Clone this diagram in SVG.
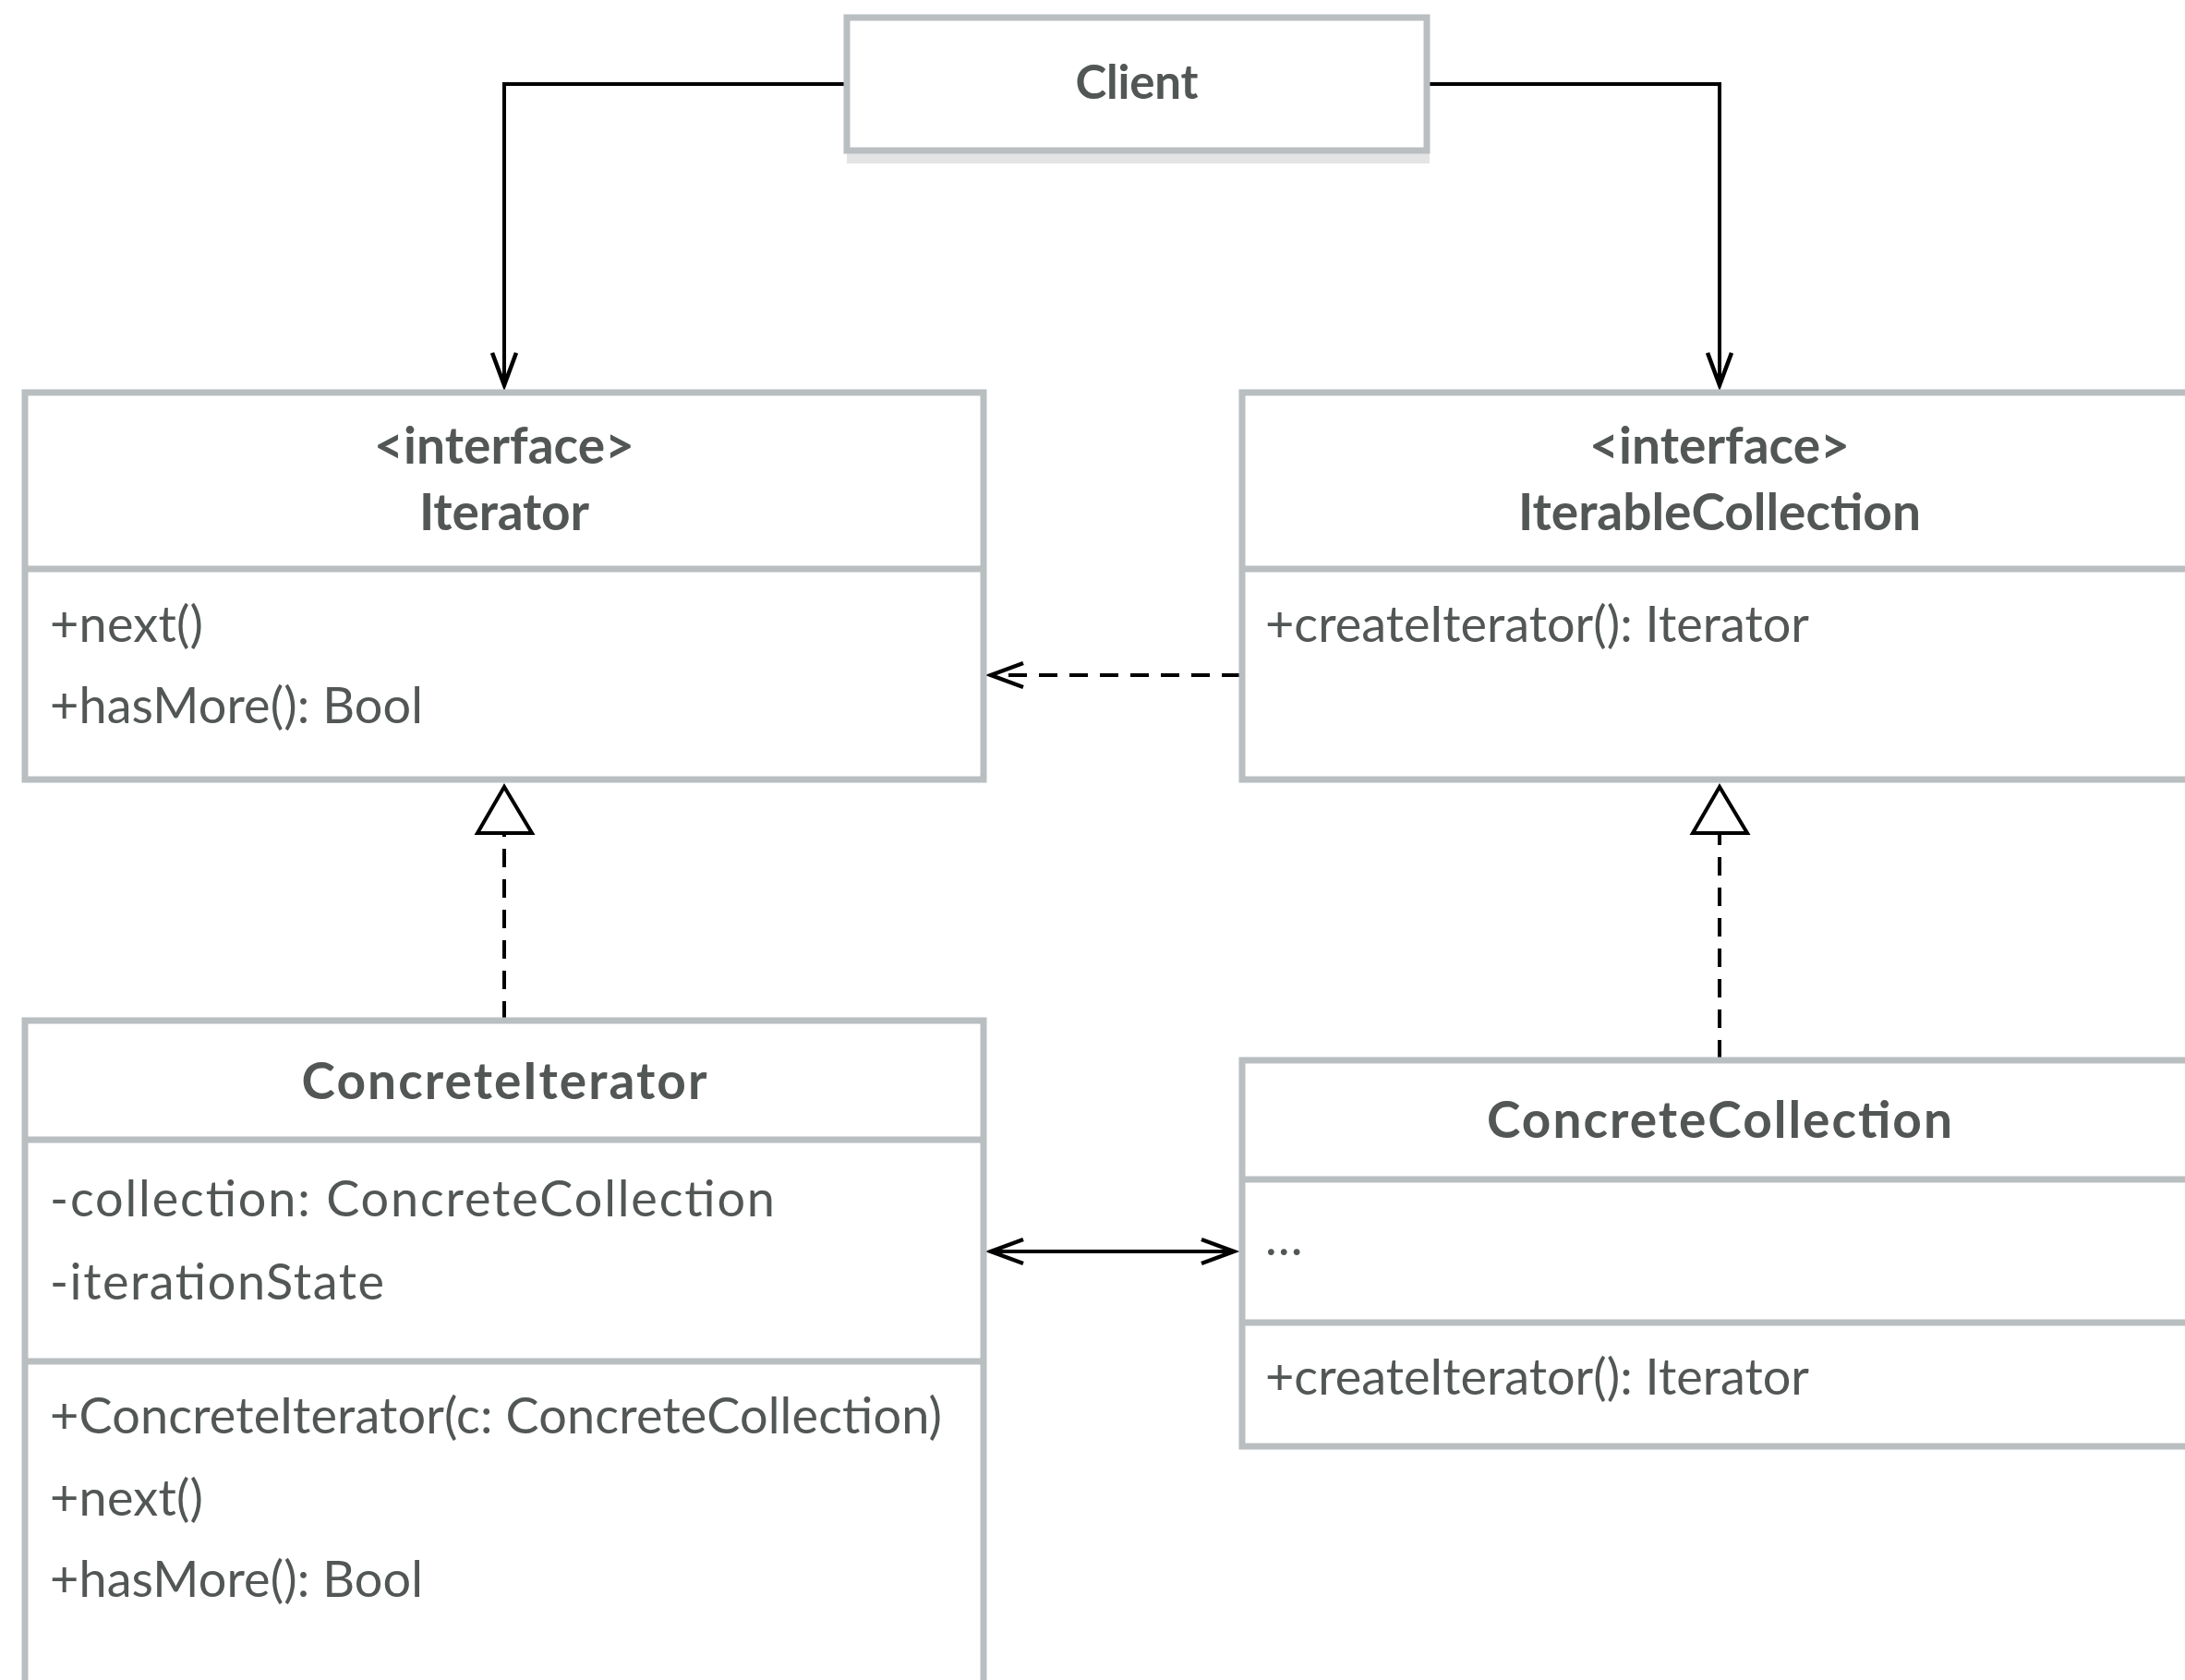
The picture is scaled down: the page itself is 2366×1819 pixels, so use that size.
<svg xmlns="http://www.w3.org/2000/svg" width="2366" height="1819" viewBox="0 0 2366 1819">
  <style>
    .box { fill: #ffffff; stroke: #b9bec1; stroke-width: 7; }
    .div { stroke: #b9bec1; stroke-width: 7; }
    .title { font-family: Lato, "Noto Sans", sans-serif; font-weight: bold; font-size: 55px; fill: #525756; text-anchor: middle; }
    .member { font-family: Lato, "Noto Sans", sans-serif; font-size: 54px; fill: #525756; }
    .line { fill: none; stroke: #000000; stroke-width: 4; }
    .dash { fill: none; stroke: #000000; stroke-width: 4; stroke-dasharray: 20 13; }
    .head { fill: none; stroke: #000000; stroke-width: 4.5; stroke-linejoin: miter; }
    .tri { fill: #ffffff; stroke: #000000; stroke-width: 4; }
  </style>
  <rect width="2366" height="1819" fill="#ffffff"/>

  <!-- connectors -->
  <g id="connectors">
    <!-- Client to Iterator -->
    <polyline class="line" points="917,91 546,91 546,416"/>
    <polyline class="head" points="533,382 546,417 559,382"/>
    <!-- Client to IterableCollection -->
    <polyline class="line" points="1545,91 1862,91 1862,416"/>
    <polyline class="head" points="1849,382 1862,417 1875,382"/>
    <!-- IterableCollection depends on Iterator -->
    <line class="dash" x1="1343" y1="731" x2="1074" y2="731"/>
    <polyline class="head" points="1108,718 1073,731 1108,744"/>
    <!-- ConcreteIterator realizes Iterator -->
    <line class="dash" x1="546" y1="1104" x2="546" y2="903"/>
    <polygon class="tri" points="546,852 517,902 576,902"/>
    <!-- ConcreteCollection realizes IterableCollection -->
    <line class="dash" x1="1862" y1="1146" x2="1862" y2="903"/>
    <polygon class="tri" points="1862,852 1833,902 1892,902"/>
    <!-- ConcreteIterator <-> ConcreteCollection -->
    <line class="line" x1="1074" y1="1355" x2="1335" y2="1355"/>
    <polyline class="head" points="1108,1342 1073,1355 1108,1368"/>
    <polyline class="head" points="1301,1342 1336,1355 1301,1368"/>
  </g>

  <!-- Client -->
  <g id="client">
    <rect x="917" y="163" width="631" height="14" fill="#e4e4e4"/>
    <rect class="box" x="917" y="19" width="628" height="144"/>
    <text class="title" x="1231" y="107" style="font-size:51px" textLength="133">Client</text>
  </g>

  <!-- Iterator interface -->
  <g id="iterator">
    <rect class="box" x="27" y="425" width="1038" height="419"/>
    <line class="div" x1="27" y1="616" x2="1065" y2="616"/>
    <text class="title" x="546" y="502" textLength="282">&lt;interface&gt;</text>
    <text class="title" x="546" y="574" textLength="184">Iterator</text>
    <text class="member" x="54" y="695" textLength="166">+next()</text>
    <text class="member" x="54" y="783" textLength="404">+hasMore(): Bool</text>
  </g>

  <!-- IterableCollection interface -->
  <g id="iterable-collection">
    <rect class="box" x="1345" y="425" width="1040" height="419"/>
    <line class="div" x1="1345" y1="616" x2="2385" y2="616"/>
    <text class="title" x="1862" y="502" textLength="282">&lt;interface&gt;</text>
    <text class="title" x="1862" y="574" textLength="436">IterableCollection</text>
    <text class="member" x="1370" y="695" textLength="589">+createIterator(): Iterator</text>
  </g>

  <!-- ConcreteIterator -->
  <g id="concrete-iterator">
    <rect class="box" x="27" y="1105" width="1038" height="740"/>
    <line class="div" x1="27" y1="1234" x2="1065" y2="1234"/>
    <line class="div" x1="27" y1="1474" x2="1065" y2="1474"/>
    <text class="title" x="546" y="1190" textLength="439">ConcreteIterator</text>
    <text class="member" x="54" y="1317" textLength="785">-collection: ConcreteCollection</text>
    <text class="member" x="54" y="1407" textLength="362">-iterationState</text>
    <text class="member" x="54" y="1552" textLength="966">+ConcreteIterator(c: ConcreteCollection)</text>
    <text class="member" x="54" y="1641" textLength="166">+next()</text>
    <text class="member" x="54" y="1729" textLength="404">+hasMore(): Bool</text>
  </g>

  <!-- ConcreteCollection -->
  <g id="concrete-collection">
    <rect class="box" x="1345" y="1148" width="1040" height="418"/>
    <line class="div" x1="1345" y1="1277" x2="2385" y2="1277"/>
    <line class="div" x1="1345" y1="1432" x2="2385" y2="1432"/>
    <text class="title" x="1862" y="1232" textLength="504">ConcreteCollection</text>
    <text class="member" x="1370" y="1359" textLength="46">…</text>
    <text class="member" x="1370" y="1510" textLength="589">+createIterator(): Iterator</text>
  </g>
</svg>
